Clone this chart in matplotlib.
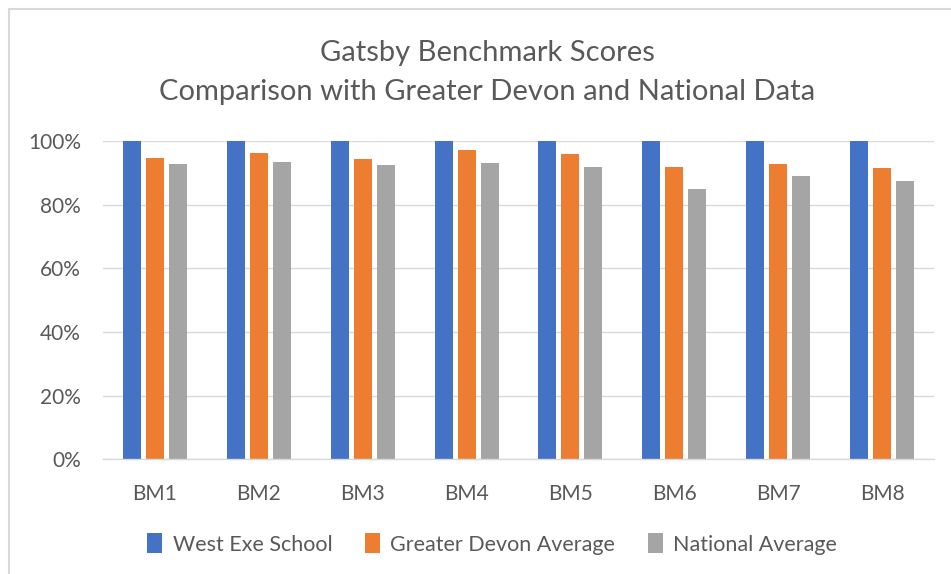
import matplotlib
matplotlib.use("Agg")
import matplotlib.pyplot as plt
import numpy as np
from matplotlib.patches import Rectangle, Patch
from matplotlib.ticker import PercentFormatter

categories = ["BM1", "BM2", "BM3", "BM4", "BM5", "BM6", "BM7", "BM8"]
west_exe = [1.00, 1.00, 1.00, 1.00, 1.00, 1.00, 1.00, 1.00]
greater_devon = [0.947, 0.964, 0.943, 0.973, 0.960, 0.919, 0.929, 0.915]
national = [0.929, 0.936, 0.924, 0.932, 0.919, 0.851, 0.891, 0.875]
series_names = ["West Exe School", "Greater Devon Average", "National Average"]
colors = ["#4472C4", "#ED7D31", "#A5A5A5"]
title_lines = ["Gatsby Benchmark Scores", "Comparison with Greater Devon and National Data"]

FONT = ["Lato", "DejaVu Sans"]
TXT = "#595959"
W, H = 951, 574
fig = plt.figure(figsize=(W / 100, H / 100), dpi=100)
fig.patch.set_facecolor("white")

# chart border
fig.patches.append(Rectangle((9 / W, -0.1), 1.2, (H - 9) / H + 0.1, transform=fig.transFigure,
                             fill=False, edgecolor="#D9D9D9", linewidth=1.5))

left, right = 103 / W, 934 / W
bottom, top = (H - 459.3) / H, (H - 141.3) / H
ax = fig.add_axes([left, bottom, right - left, top - bottom])

x = np.arange(len(categories))
bw = 0.173
off = 0.221
for i, (vals, name, c) in enumerate(zip([west_exe, greater_devon, national], series_names, colors)):
    ax.bar(x + (i - 1) * off, vals, width=bw, color=c, label=name, zorder=3)

ax.set_xlim(-0.5, len(categories) - 0.5)
ax.set_ylim(0, 1.0)
ax.set_yticks(np.linspace(0, 1, 6))
ax.yaxis.set_major_formatter(PercentFormatter(1.0, decimals=0))
ax.grid(axis="y", color="#D9D9D9", linewidth=1.0, zorder=0)
ax.set_axisbelow(True)
for s in ["top", "right", "left"]:
    ax.spines[s].set_visible(False)
ax.spines["bottom"].set_color("#D9D9D9")
ax.spines["bottom"].set_linewidth(1.0)
ax.spines["bottom"].set_zorder(4)
ax.set_xticks(x)
ax.set_xticklabels(categories)
ax.tick_params(axis="both", length=0, labelcolor=TXT, labelsize=15)
ax.tick_params(axis="x", pad=18)
ax.tick_params(axis="y", pad=16)
for lab in ax.get_xticklabels() + ax.get_yticklabels():
    lab.set_family(FONT)

fig.text(487 / W, (H - 53) / H, title_lines[0], ha="center", va="center", fontsize=21, color=TXT, family=FONT)
fig.text(487 / W, (H - 92) / H, title_lines[1], ha="center", va="center", fontsize=21, color=TXT, family=FONT)

handles = [Patch(facecolor=c, edgecolor="none") for c in colors]
leg = fig.legend(handles, series_names, loc="center", bbox_to_anchor=(492 / W, (H - 544) / H),
                 ncol=3, frameon=False, prop={"family": FONT, "size": 15.5},
                 handlelength=0.7, handleheight=1.0, handletextpad=0.5, columnspacing=1.5)
for t in leg.get_texts():
    t.set_color(TXT)

fig.savefig("out.png", dpi=100, facecolor="white")
